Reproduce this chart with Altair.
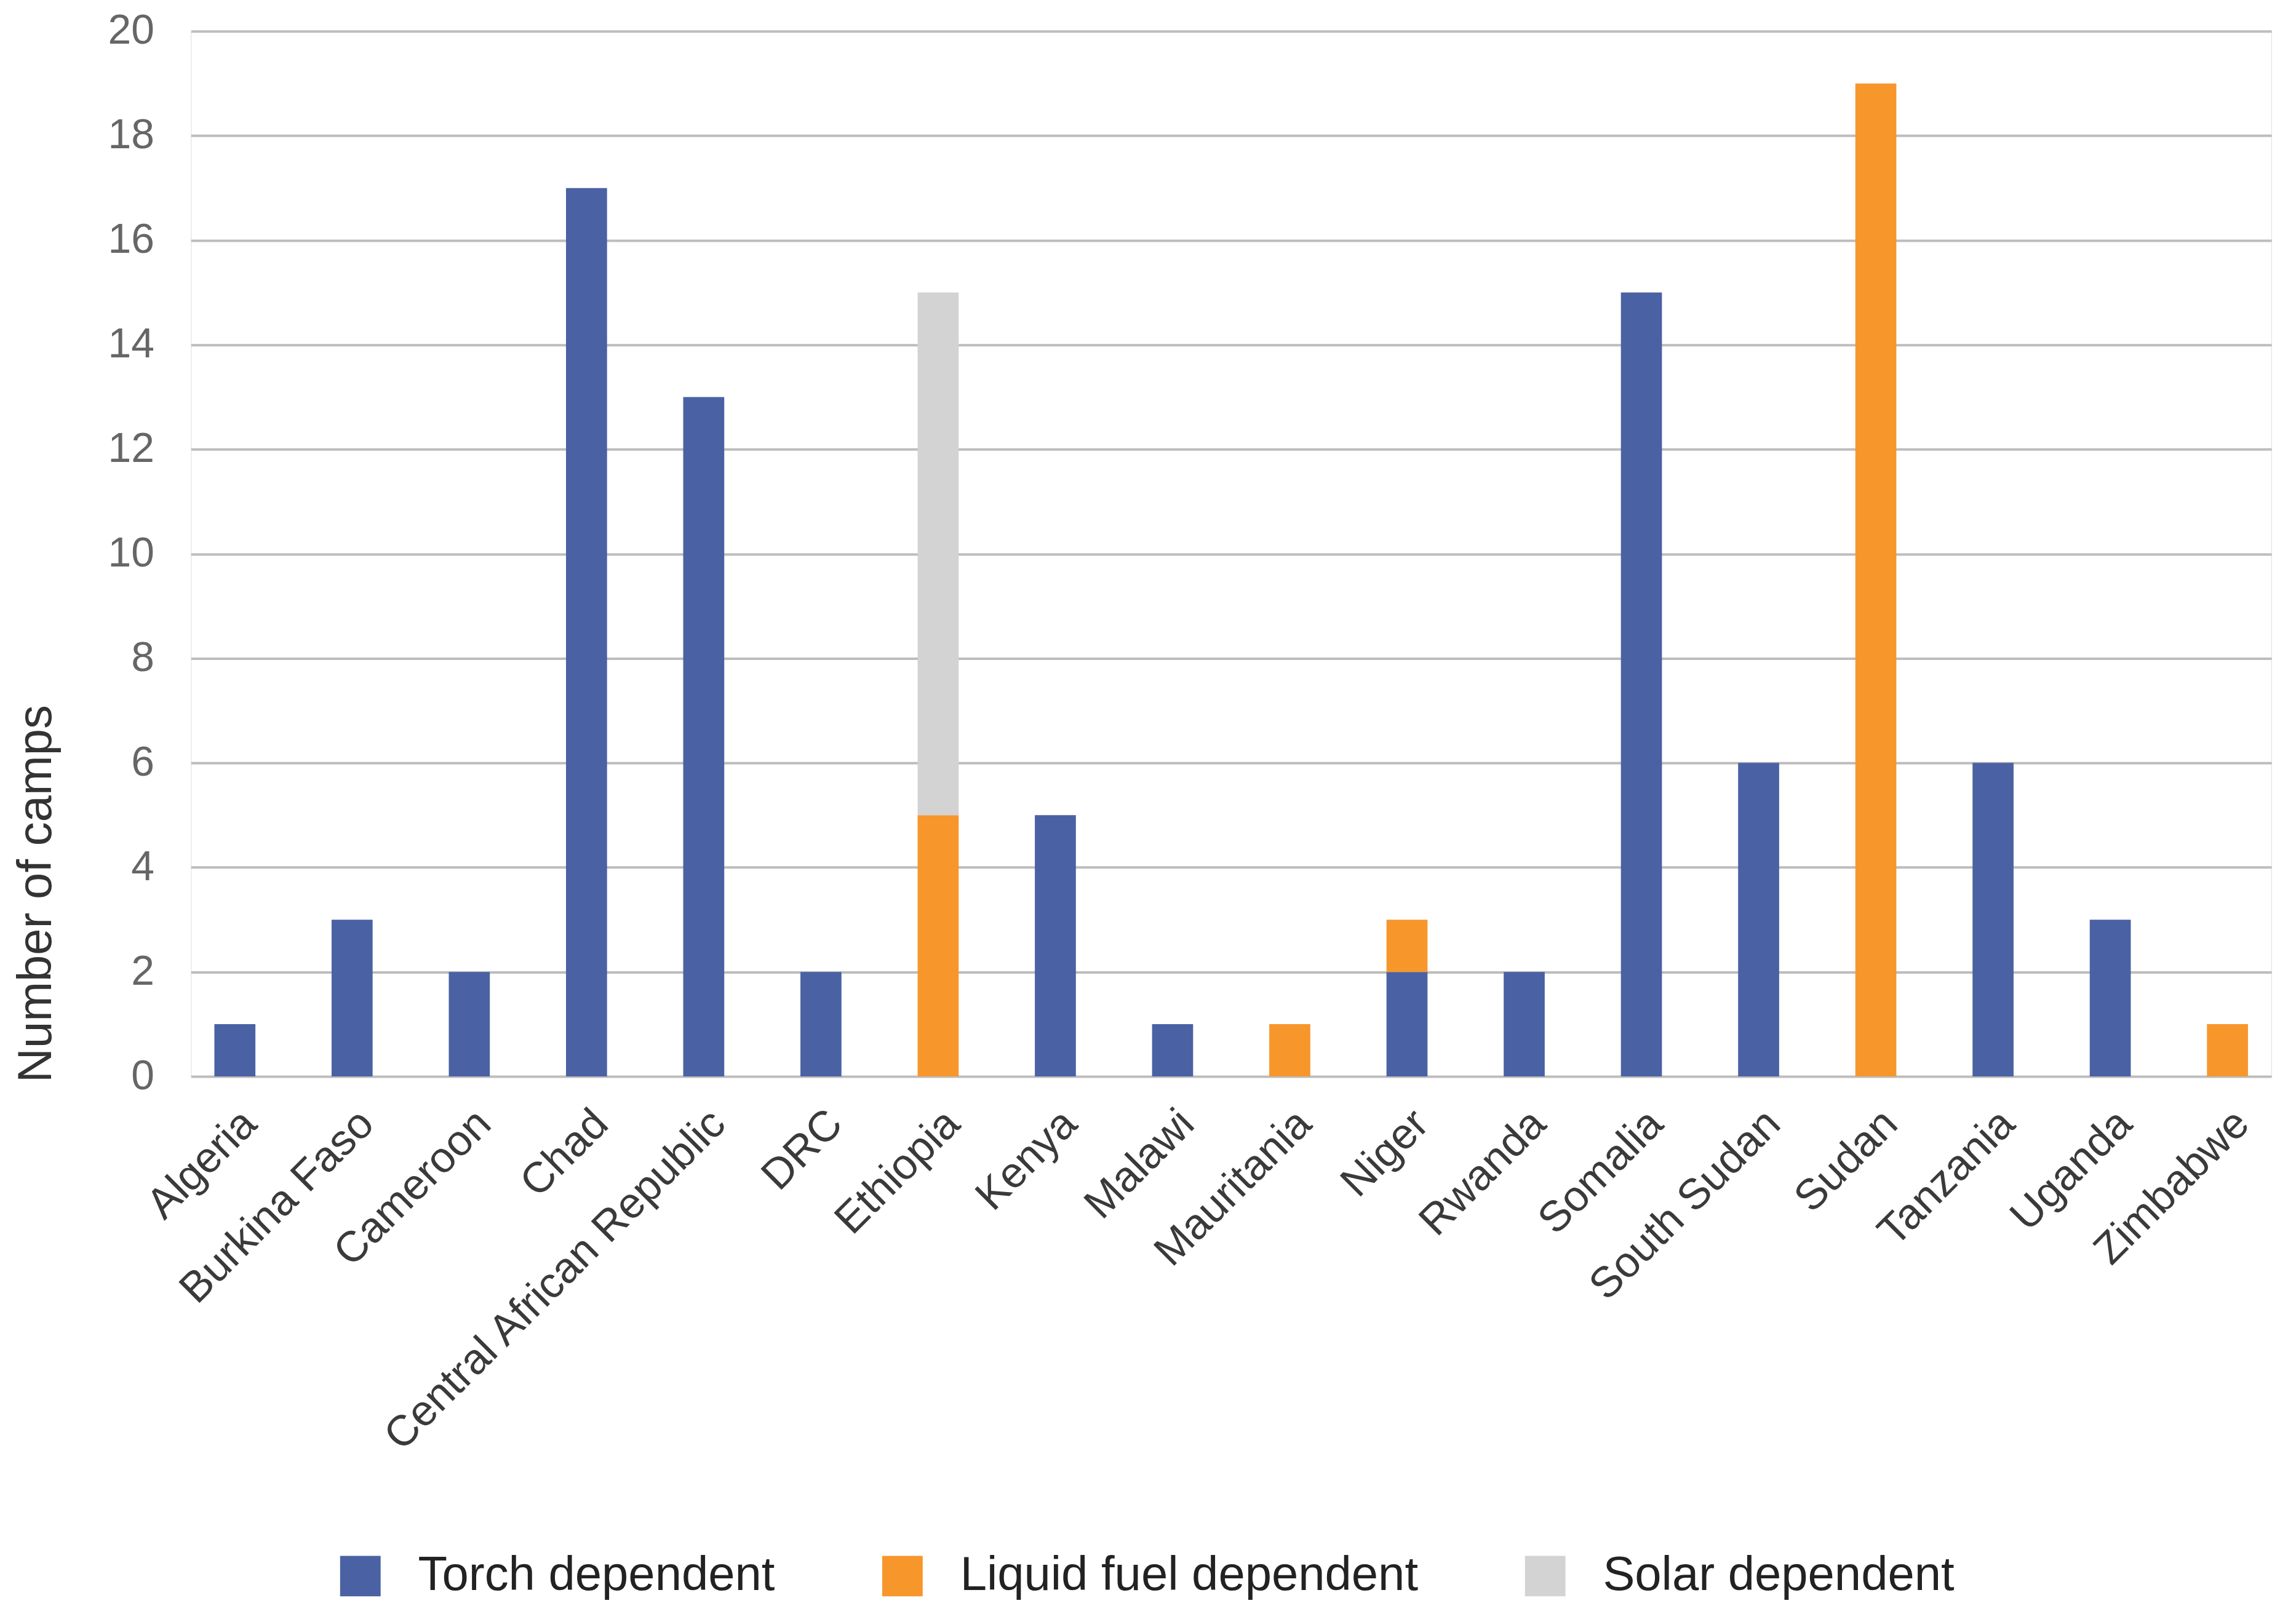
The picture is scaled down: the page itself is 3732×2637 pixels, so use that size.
import altair as alt
import pandas as pd

countries = ["Algeria", "Burkina Faso", "Cameroon", "Chad", "Central African Republic",
             "DRC", "Ethiopia", "Kenya", "Malawi", "Mauritania", "Niger", "Rwanda",
             "Somalia", "South Sudan", "Sudan", "Tanzania", "Uganda", "Zimbabwe"]
torch = [1, 3, 2, 17, 13, 2, 0, 5, 1, 0, 2, 2, 15, 6, 0, 6, 3, 0]
liquid = [0, 0, 0, 0, 0, 0, 5, 0, 0, 1, 1, 0, 0, 0, 19, 0, 0, 1]
solar = [0, 0, 0, 0, 0, 0, 10, 0, 0, 0, 0, 0, 0, 0, 0, 0, 0, 0]

series = ["Torch dependent", "Liquid fuel dependent", "Solar dependent"]
colors = ["#4A61A3", "#F7962B", "#D3D3D3"]

rows = []
for rank, (name, vals) in enumerate(zip(series, [torch, liquid, solar])):
    for c, v in zip(countries, vals):
        if v > 0:
            rows.append({"country": c, "type": name, "camps": v, "rank": rank})
data = pd.DataFrame(rows)

FONT = "Liberation Sans"

chart = alt.Chart(data).mark_bar().encode(
    x=alt.X("country:N", sort=countries, title=None,
            scale=alt.Scale(paddingInner=0.65, paddingOuter=0.2),
            axis=alt.Axis(labelAngle=-45, labelAlign="right", labelBaseline="top",
                          labelFontSize=70, labelColor="#3a3a3a", labelFont=FONT,
                          labelPadding=42, labelLimit=0, ticks=False,
                          domain=False, grid=False)),
    y=alt.Y("camps:Q", stack="zero", title="Number of camps",
            scale=alt.Scale(domain=[0, 20]),
            axis=alt.Axis(values=list(range(0, 21, 2)), labelFontSize=68,
                          labelColor="#666666", labelFont=FONT, labelPadding=60,
                          ticks=False, domain=False, gridColor="#bdbdbd", gridWidth=4,
                          titleFont=FONT, titleFontSize=78, titleFontWeight="normal",
                          titleColor="#333333", titleAngle=270, titleAlign="center",
                          titleBaseline="middle", titleX=-251, titleY=1405)),
    color=alt.Color("type:N", sort=series,
                    scale=alt.Scale(domain=series, range=colors),
                    legend=alt.Legend(title=None, orient="none", direction="horizontal",
                                      legendX=237, legendY=2478, symbolType="square",
                                      symbolSize=4356, symbolStrokeWidth=0,
                                      labelFontSize=78, labelFont=FONT, labelColor="#222222",
                                      labelOffset=55, labelLimit=0, columnPadding=168)),
    order=alt.Order("rank:Q", sort="ascending"),
).properties(
    width=3389,
    height=1703,
    padding={"left": 303, "top": 40, "right": 32, "bottom": 880},
    autosize=alt.AutoSizeParams(type="none"),
).configure_view(stroke=None).configure(background="white")

chart.save("out.html", embed_options={"renderer": "svg", "actions": False})
